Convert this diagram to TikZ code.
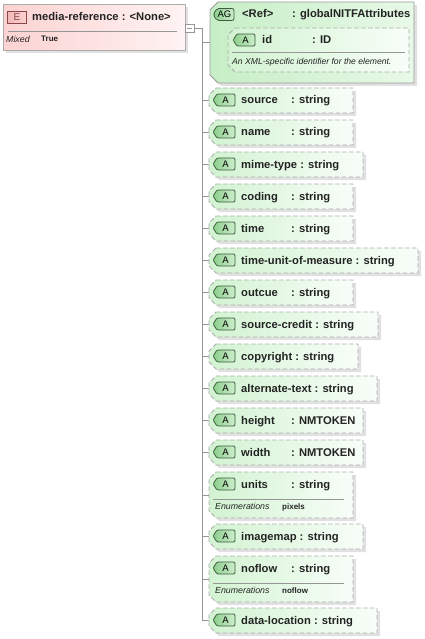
\documentclass[tikz,border=0pt]{standalone}
\usepackage{fontspec}
\setmainfont{Liberation Sans}
\usetikzlibrary{calc}
\definecolor{dashc}{RGB}{172,172,172}
\definecolor{linec}{RGB}{150,150,150}
\definecolor{shadowc}{RGB}{225,225,225}
\definecolor{gL}{RGB}{210,243,210}
\definecolor{gR}{RGB}{248,254,248}
\definecolor{agL}{RGB}{198,238,198}
\definecolor{agR}{RGB}{232,249,232}
\definecolor{tagL}{RGB}{140,205,140}
\definecolor{tagR}{RGB}{205,238,205}
\definecolor{tagD}{RGB}{60,90,60}
\definecolor{pkL}{RGB}{252,210,210}
\definecolor{pkR}{RGB}{255,243,243}
\definecolor{etagF}{RGB}{240,185,185}
\definecolor{etagD}{RGB}{140,70,70}
\definecolor{txtc}{RGB}{35,35,35}
\tikzset{
  attrsty/.style={draw=dashc, dash pattern=on 4.5pt off 2.5pt, line width=0.9pt, left color=gL, right color=gR},
  agsty/.style={draw=dashc!90!black, line width=0.9pt, left color=agL, right color=agR},
  tagsty/.style={draw=tagD, line width=0.8pt, left color=tagL, right color=tagR, rounded corners=1.2pt},
  tagtxt/.style={font=\fontsize{9.5}{10}\selectfont, text=black, inner sep=0pt, anchor=base},
  lbl/.style={font=\fontsize{11.2}{13}\selectfont\bfseries, text=txtc, anchor=base west, inner sep=0pt},
  enumlbl/.style={font=\fontsize{8.8}{10}\selectfont\itshape, text=txtc, anchor=base west, inner sep=0pt},
  enumval/.style={font=\fontsize{8}{10}\selectfont\bfseries, text=txtc, anchor=base west, inner sep=0pt},
  sepline/.style={draw=linec, line width=0.8pt},
  conn/.style={draw=linec, line width=0.8pt},
}
% chamfered box: name, L, T, R, B, chamfer, style
\newcommand\chbox[7]{%
  \fill[shadowc] ({#2+#6+3},{#3+3}) -- ({#4+3},{#3+3}) -- ({#4+3},{#5+3}) -- ({#2+#6+3},{#5+3}) -- ({#2+3},{#5-#6+3}) -- ({#2+3},{#3+#6+3}) -- cycle;
  \path[#7] ({#2+#6},{#3}) -- ({#4},{#3}) -- ({#4},{#5}) -- ({#2+#6},{#5}) -- ({#2},{#5-#6}) -- ({#2},{#3+#6}) -- cycle;
  \node[inner sep=0pt, outer sep=0pt, minimum width={((#4)-(#2))*1pt}, minimum height={((#5)-(#3))*1pt}, anchor=north west] (#1) at ({#2},{#3}) {};
}
% tag: name, x, cy, text
\newcommand\tagA[4]{%
  \path[tagsty] ({#2+4},{#3-6}) -- ({#2+22},{#3-6}) -- ({#2+22},{#3+6}) -- ({#2+4},{#3+6}) -- ({#2},{#3}) -- cycle;
  \node[tagtxt] (#1) at ({#2+12.5},{#3+3.5}) {#4};
}
% padded attribute: name, cy, right, label, type
\newcommand\attrp[5]{%
  \chbox{#1}{209}{#2-12}{#3}{#2+13}{7}{attrsty}
  \tagA{#1tag}{213}{#2}{A}
  \node[lbl] (#1lbl) at (241,{#2+4}) {#4};
  \node[lbl] (#1typ) at (291,{#2+4}) {: #5};
}
% unpadded attribute: name, cy, right, text
\newcommand\attrn[4]{%
  \chbox{#1}{209}{#2-12}{#3}{#2+13}{7}{attrsty}
  \tagA{#1tag}{213}{#2}{A}
  \node[lbl] (#1lbl) at (241,{#2+4}) {#4};
}
% enumerated attribute: name, top, right, label, type, value
\newcommand\attre[6]{%
  \chbox{#1}{209}{#2}{#3}{#2+46}{7}{attrsty}
  \tagA{#1tag}{213}{#2+12}{A}
  \node[lbl] (#1lbl) at (241,{#2+16}) {#4};
  \node[lbl] (#1typ) at (291,{#2+16}) {: #5};
  \draw[sepline] (213,{#2+27}) -- (344,{#2+27});
  \node[enumlbl] (#1enl) at (215,{#2+37.5}) {Enumerations};
  \node[enumval] (#1env) at (282,{#2+37}) {#6};
}
\begin{document}
\begin{tikzpicture}[x=1pt,y=-1pt]
\useasboundingbox (0,0) rectangle (424,639);

% element box
\fill[shadowc] (6,7) rectangle (188,53);
\node[draw=dashc, line width=0.9pt, left color=pkL, right color=pkR, inner sep=0pt, minimum width=182pt, minimum height=46pt, anchor=north west] (elem) at (3,4) {};
\node[draw=etagD, line width=0.8pt, left color=etagF, right color=pkL, minimum width=19pt, minimum height=12pt, inner sep=0pt, anchor=north west, font=\fontsize{10}{10}\selectfont, text=etagD] (etag) at (7,11) {E};
\node[lbl] (etitle) at (32,21) {media-reference : <None>};
\draw[sepline] (8,31) -- (177,31);
\node[font=\fontsize{8.8}{10}\selectfont\itshape, text=txtc, anchor=base west, inner sep=0pt] (emix) at (6,42.5) {Mixed};
\node[font=\fontsize{8}{10}\selectfont\bfseries, text=txtc, anchor=base west, inner sep=0pt] (etrue) at (41,42) {True};

% collapse square
\node[draw=linec, fill=white, line width=0.8pt, minimum width=9pt, minimum height=8pt, inner sep=0pt, anchor=west] (col) at (185,28) {};
\draw[linec, line width=0.8pt] ($(col.center)+(-2.5,0)$) -- ($(col.center)+(2.5,0)$);
\coordinate (trunk) at (202,28);

% attribute group box
\chbox{ag}{210}{2}{414}{83}{8}{agsty}
\path[tagsty, rounded corners=2pt] (217,8.5) -- (234,8.5) -- (234,20.5) -- (217,20.5) -- (213,14.5) -- cycle;
\node[tagtxt] (agtag) at (224.5,18) {AG};
\node[lbl] (agref) at (242,18) {<Ref>};
\node[lbl] (agtyp) at (292,18) {: globalNITFAttributes};
% id attribute inside the group
\path[attrsty] (235,28) -- (409,28) -- (409,72) -- (235,72) -- (228,65) -- (228,35) -- cycle;
\node[inner sep=0pt, minimum width=181pt, minimum height=44pt, anchor=north west] (idbox) at (228,28) {};
\tagA{idtag}{233}{40}{A}
\node[lbl] (idlbl) at (262,44) {id};
\node[lbl] (idtyp) at (312,44) {: ID};
\draw[sepline] (232,52) -- (405,52);
\node[font=\fontsize{8.6}{10}\selectfont\itshape, text=txtc, anchor=base west, inner sep=0pt] (iddoc) at (232,65) {An XML-specific identifier for the element.};

% attributes
\attrp{source}{100}{353}{source}{string}
\attrp{name}{132}{353}{name}{string}
\attrn{mime}{164}{363}{mime-type : string}
\attrp{coding}{196}{353}{coding}{string}
\attrp{time}{228}{353}{time}{string}
\attrn{tuom}{260}{418}{time-unit-of-measure : string}
\attrp{outcue}{292}{353}{outcue}{string}
\attrn{scredit}{324}{378}{source-credit : string}
\attrn{copy}{356}{358}{copyright : string}
\attrn{alt}{388}{377}{alternate-text : string}
\attrp{height}{420}{363}{height}{NMTOKEN}
\attrp{width}{452}{363}{width}{NMTOKEN}
\attre{units}{472}{353}{units}{string}{pixels}
\attrn{imap}{536}{363}{imagemap : string}
\attre{noflow}{556}{353}{noflow}{string}{noflow}
\attrn{dloc}{620}{377}{data-location : string}

% connectors
\draw[conn] (col.east) -- (trunk) -- (trunk |- dloc.west);
\foreach \n in {ag,source,name,mime,coding,time,tuom,outcue,scredit,copy,alt,height,width,units,imap,noflow,dloc}
  \draw[conn] (trunk |- \n.west) -- (\n.west);
\end{tikzpicture}
\end{document}
